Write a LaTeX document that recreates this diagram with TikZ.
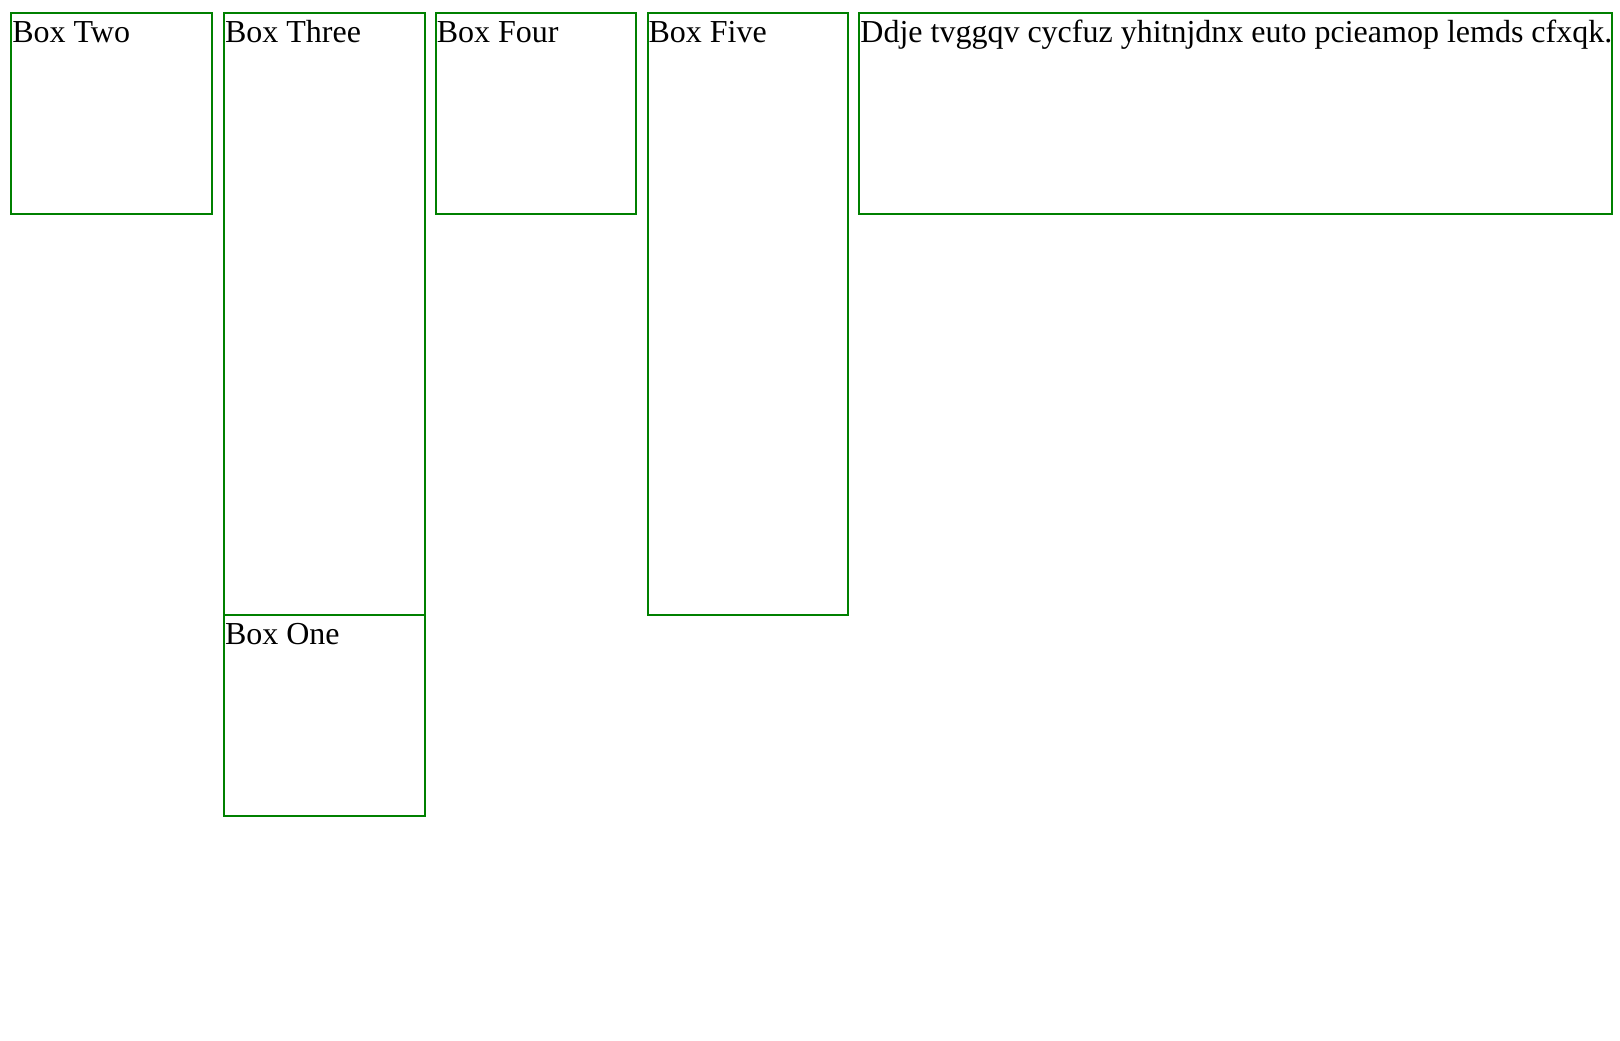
\documentclass[tikz,border=0pt]{standalone}
\usepackage{fontspec}
\setmainfont{Liberation Serif}
\definecolor{boxgreen}{RGB}{0,128,0}
\begin{document}
\begin{tikzpicture}[x=0.5pt,y=-0.5pt,
  box/.style={draw=boxgreen, line width=1pt, rectangle, inner sep=0pt, outer sep=0pt, anchor=north west},
  lbl/.style={anchor=base west, inner sep=0pt, outer sep=0pt, font=\fontsize{16pt}{18pt}\selectfont}]
\useasboundingbox (0,0) rectangle (1620,1040);
% boxes (coordinates in px, line centre)
\node[box, minimum width={201*0.5pt}, minimum height={200.5*0.5pt}] (two) at (11.3,13.4) {};
\node[box, minimum width={200.5*0.5pt}, minimum height={601.3*0.5pt}] (three) at (224,13.4) {};
\node[box, minimum width={200.5*0.5pt}, minimum height={200.5*0.5pt}] (four) at (435.6,13.4) {};
\node[box, minimum width={200.5*0.5pt}, minimum height={601.3*0.5pt}] (five) at (647.6,13.4) {};
\node[box, minimum width={752.6*0.5pt}, minimum height={200.5*0.5pt}] (six) at (859.4,13.4) {};
\node[box, minimum width={200.5*0.5pt}, minimum height={201.6*0.5pt}] (one) at (224,614.7) {};
% labels
\node[lbl] (ttwo) at (12.3,42.5) {Box Two};
\node[lbl] (tthree) at (225,42.5) {Box Three};
\node[lbl] (tfour) at (436.8,42.5) {Box Four};
\node[lbl] (tfive) at (648.6,42.5) {Box Five};
\node[lbl] (tsix) at (860.4,42.5) {Ddje tvggqv cycfuz yhitnjdnx euto pcieamop lemds cfxqk.};
\node[lbl] (tone) at (225,644) {Box One};
\end{tikzpicture}
\end{document}
